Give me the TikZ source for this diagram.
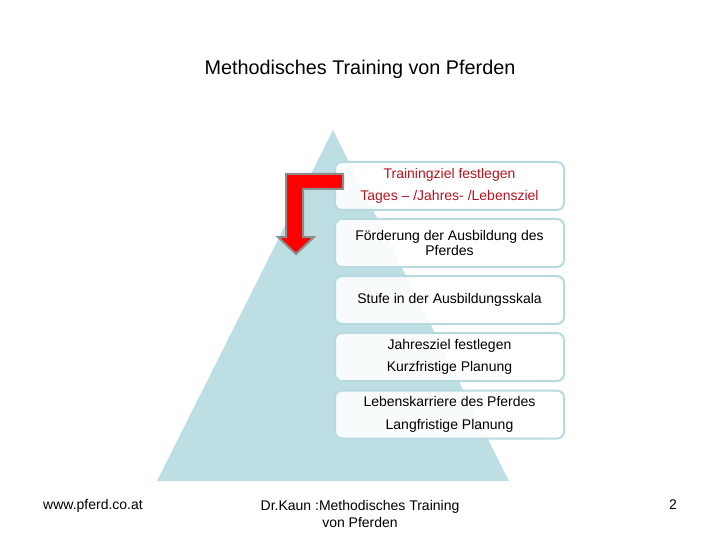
\documentclass[tikz,border=0pt]{standalone}
\usepackage{fontspec}
\setmainfont{Liberation Sans}
\definecolor{pyramide}{RGB}{189,223,227}
\definecolor{rahmen}{RGB}{183,218,224}
\definecolor{zielrot}{RGB}{180,20,30}
\definecolor{pfeilrand}{RGB}{140,140,140}
\tikzset{
  stufe/.style={draw=rahmen, line width=2pt, rounded corners=7pt, fill=white,
    fill opacity=0.9, text opacity=1, minimum width=229pt, minimum height=48pt,
    align=center, font=\fontsize{14}{15.5}\selectfont},
  fuss/.style={font=\fontsize{14}{17.5}\selectfont, align=center}
}
\begin{document}
\begin{tikzpicture}[x=1pt, y=-1pt]
\useasboundingbox (0,0) rectangle (720,540);
\fill (157,481)--(509,481)--(333,130)--cycle [pyramide];
\node[anchor=base, font=\fontsize{19.8}{22}\selectfont] (titel) at (360,75) {Methodisches Training von Pferden};
\node[stufe] (ziel) at (449.5,186) {\textcolor{zielrot}{Trainingziel festlegen}\\[7pt]\textcolor{zielrot}{Tages -- /Jahres- /Lebensziel}};
\node[stufe] (foerderung) at (449.5,243) {Förderung der Ausbildung des\\Pferdes};
\node[stufe] (skala) at (449.5,300) {Stufe in der Ausbildungsskala};
\node[stufe] (jahr) at (449.5,357) {Jahresziel festlegen\\[7pt]Kurzfristige Planung};
\node[stufe] (karriere) at (449.5,414.5) {Lebenskarriere des Pferdes\\[7pt]Langfristige Planung};
\draw (343,174)--(286,174)--(286,237)--(278,237)--(296,254)--(314,237)--(303,237)--(303,189)--(343,189)--cycle [fill=red, draw=pfeilrand, line width=2pt];
\node[fuss, anchor=base] (web) at (93,509) {www.pferd.co.at};
\node[fuss] (autor) at (360,514) {Dr.Kaun :Methodisches Training\\von Pferden};
\node[fuss, anchor=base] (seite) at (673,509) {2};
\end{tikzpicture}
\end{document}
